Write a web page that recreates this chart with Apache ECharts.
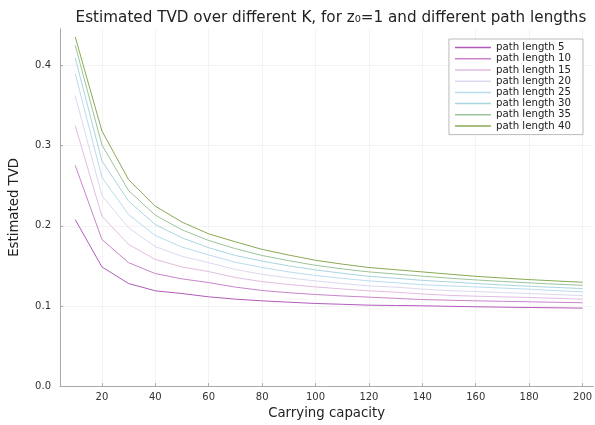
<!DOCTYPE html>
<html>
<head>
<meta charset="utf-8">
<script src="https://cdn.jsdelivr.net/npm/echarts@6/dist/echarts.min.js"></script>
<style>html,body{margin:0;padding:0;background:#fff}#c{width:595px;height:425px}</style>
</head>
<body>
<div id="c"></div>
<script>
const capacities = [10,20,30,40,50,60,70,80,90,100,110,120,130,140,150,160,170,180,190,200];
const seriesNames = ['path length 5','path length 10','path length 15','path length 20','path length 25','path length 30','path length 35','path length 40'];
const pl5  = [0.2078,0.1487,0.1280,0.1189,0.1155,0.1114,0.1085,0.1064,0.1047,0.1031,0.1021,0.1010,0.1006,0.1002,0.0996,0.0990,0.0985,0.0981,0.0977,0.0973];
const pl10 = [0.2754,0.1830,0.1540,0.1404,0.1338,0.1292,0.1235,0.1193,0.1165,0.1143,0.1125,0.1110,0.1095,0.1080,0.1072,0.1064,0.1058,0.1052,0.1046,0.1040];
const pl15 = [0.3250,0.2120,0.1768,0.1580,0.1487,0.1429,0.1355,0.1304,0.1268,0.1238,0.1212,0.1189,0.1172,0.1150,0.1132,0.1122,0.1114,0.1106,0.1095,0.1085];
const pl20 = [0.3623,0.2377,0.1975,0.1740,0.1620,0.1540,0.1455,0.1395,0.1350,0.1313,0.1280,0.1250,0.1235,0.1210,0.1192,0.1180,0.1167,0.1155,0.1142,0.1130];
const pl25 = [0.3900,0.2605,0.2140,0.1880,0.1735,0.1636,0.1545,0.1480,0.1425,0.1380,0.1345,0.1313,0.1290,0.1265,0.1250,0.1238,0.1223,0.1209,0.1192,0.1176];
const pl30 = [0.4096,0.2810,0.2307,0.2016,0.1850,0.1727,0.1630,0.1560,0.1500,0.1450,0.1408,0.1370,0.1345,0.1320,0.1300,0.1280,0.1262,0.1246,0.1231,0.1217];
const pl35 = [0.4252,0.3010,0.2439,0.2133,0.1950,0.1817,0.1715,0.1630,0.1565,0.1507,0.1463,0.1425,0.1398,0.1372,0.1347,0.1325,0.1306,0.1288,0.1272,0.1258];
const pl40 = [0.4357,0.3184,0.2576,0.2245,0.2046,0.1900,0.1800,0.1706,0.1635,0.1570,0.1522,0.1480,0.1452,0.1425,0.1397,0.1370,0.1349,0.1329,0.1312,0.1296];
const allValues = [pl5,pl10,pl15,pl20,pl25,pl30,pl35,pl40];
const xTicks = [20,40,60,80,100,120,140,160,180,200];
const yTicks = [0,0.1,0.2,0.3,0.4];
const colors = ['#b25bbd','#c984cc','#e2bde2','#dcd8ef','#b9dcef','#a9d5e0','#9cc49a','#8aaa55'];

const chart = echarts.init(document.getElementById('c'), null, {renderer:'canvas'});
const font = 'DejaVu Sans';
chart.setOption({
  animation:false,
  backgroundColor:'#fff',
  textStyle:{fontFamily:font},
  title:{
    text:'Estimated TVD over different K, for z\u2080=1 and different path lengths',
    left:326, top:6, textAlign:'center',
    textStyle:{fontFamily:font,fontSize:15.2,fontWeight:'normal',color:'#222'}
  },
  legend:{
    orient:'vertical', right:12, top:39,
    backgroundColor:'#fff', borderColor:'#bbb', borderWidth:1, borderRadius:0,
    padding:[3,12,3,6], itemGap:0, itemWidth:36, itemHeight:1.5, icon:'rect',
    textStyle:{fontFamily:font,fontSize:10.2,color:'#222',lineHeight:11.2,padding:[0,0,0,0]},
    data:seriesNames
  },
  grid:{left:55, right:0.2, top:28.7, bottom:35, containLabel:false},
  xAxis:{
    type:'value', min:4.3, max:204,
    name:'Carrying capacity', nameLocation:'middle', nameGap:19.5,
    nameTextStyle:{fontFamily:font,fontSize:13.3,color:'#222'},
    axisLine:{show:true,lineStyle:{color:'#aaa',width:1}},
    axisTick:{show:true,inside:true,length:3,customValues:xTicks,lineStyle:{color:'#aaa'}},
    axisLabel:{customValues:xTicks,fontFamily:font,fontSize:10,color:'#333',margin:6},
    splitLine:{show:true,customValues:xTicks,lineStyle:{color:'#f3f3f3',width:1}}
  },
  yAxis:{
    type:'value', min:0, max:0.446,
    name:'Estimated TVD', nameLocation:'middle', nameGap:39,
    nameTextStyle:{fontFamily:font,fontSize:13.3,color:'#222'},
    axisLine:{show:true,lineStyle:{color:'#aaa',width:1}},
    axisTick:{show:true,inside:true,length:3,customValues:yTicks,lineStyle:{color:'#aaa'}},
    axisLabel:{customValues:yTicks,fontFamily:font,fontSize:10,color:'#333',margin:9,
      formatter:v=>v.toFixed(1)},
    splitLine:{show:true,customValues:yTicks,lineStyle:{color:'#f3f3f3',width:1}}
  },
  series: seriesNames.map((n,i)=>({
    name:n, type:'line', showSymbol:false, symbol:'none',
    data:capacities.map((k,j)=>[k,allValues[i][j]]),
    lineStyle:{width:1,color:colors[i]}, itemStyle:{color:colors[i]}
  }))
});
</script>
</body>
</html>
